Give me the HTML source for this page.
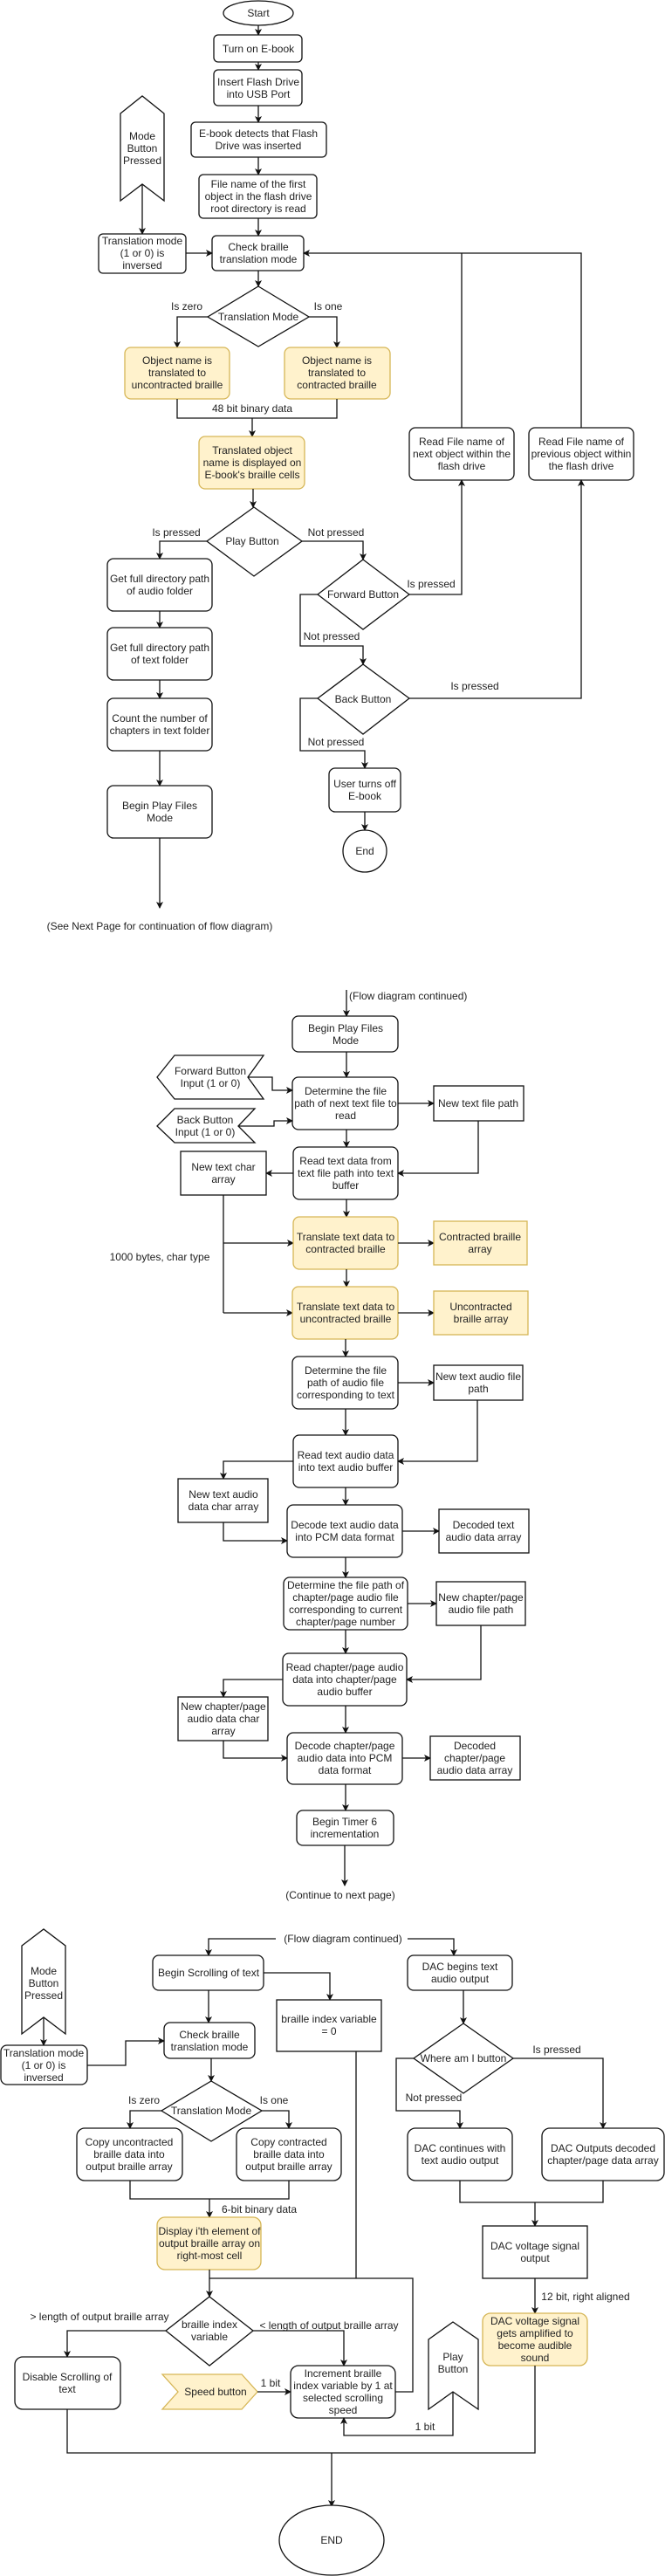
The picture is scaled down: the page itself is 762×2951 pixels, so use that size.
<!DOCTYPE html>
<html><head><meta charset="utf-8">
<style>
html,body{margin:0;padding:0;background:#fff;}
svg{display:block;}
text{font-family:"Liberation Sans",Arial,sans-serif;font-size:12px;fill:#222;}
.b{fill:#fff;stroke:#111;stroke-width:1.3;}
.y{fill:#fff2cc;stroke:#d6b656;stroke-width:1.3;}
.l{fill:none;stroke:#111;stroke-width:1.3;}
</style></head><body>
<svg width="762" height="2951" viewBox="0 0 762 2951" xmlns="http://www.w3.org/2000/svg">
<defs><marker id="a" markerWidth="8" markerHeight="8" refX="7" refY="4" orient="auto" markerUnits="userSpaceOnUse"><path d="M0,0 L8,4 L0,8 L2,4 z" fill="#111"/></marker></defs>
<g text-anchor="middle">

<!-- PART 1 -->
<ellipse class="b" cx="296" cy="15" rx="40" ry="14"/><text x="296" y="19">Start</text>
<path class="l" d="M296,29V40" marker-end="url(#a)"/>
<rect class="b" x="245" y="40" width="101" height="31" rx="5"/><text x="296" y="60">Turn on E-book</text>
<path class="l" d="M296,71V80" marker-end="url(#a)"/>
<rect class="b" x="245" y="80" width="101" height="41" rx="5"/><text x="296" y="98">Insert Flash Drive</text><text x="296" y="112">into USB Port</text>
<path class="l" d="M296,121V140" marker-end="url(#a)"/>
<rect class="b" x="219" y="140" width="155" height="40" rx="5"/><text x="296" y="157">E-book detects that Flash</text><text x="296" y="171">Drive was inserted</text>
<path class="l" d="M296,180V200" marker-end="url(#a)"/>
<rect class="b" x="228" y="200" width="135" height="50" rx="5"/><text x="296" y="215">File name of the first</text><text x="296" y="229">object in the flash drive</text><text x="296" y="243">root directory is read</text>
<path class="l" d="M296,250V270" marker-end="url(#a)"/>
<rect class="b" x="243" y="270" width="105" height="40" rx="5"/><text x="296" y="287">Check braille</text><text x="296" y="301">translation mode</text>
<polygon class="b" points="138,130 163,110 188,130 188,230 163,211 138,230"/>
<text x="163" y="160">Mode</text><text x="163" y="174">Button</text><text x="163" y="188">Pressed</text>
<path class="l" d="M163,211V268" marker-end="url(#a)"/>
<rect class="b" x="113" y="268" width="100" height="45" rx="5"/><text x="163" y="280">Translation mode</text><text x="163" y="294">(1 or 0) is</text><text x="163" y="308">inversed</text>
<path class="l" d="M213,290H243" marker-end="url(#a)"/>
<path class="l" d="M296,310V328" marker-end="url(#a)"/>
<polygon class="b" points="296,328 354,363 296,397 238,363"/><text x="296" y="367">Translation Mode</text>
<path class="l" d="M238,363H203V398" marker-end="url(#a)"/>
<path class="l" d="M354,363H386V398" marker-end="url(#a)"/>
<text x="214" y="355">Is zero</text><text x="376" y="355">Is one</text>
<rect class="y" x="143" y="398" width="120" height="59" rx="7"/><text x="203" y="417">Object name is</text><text x="203" y="431">translated to</text><text x="203" y="445">uncontracted braille</text>
<rect class="y" x="326" y="398" width="121" height="59" rx="7"/><text x="386" y="417">Object name is</text><text x="386" y="431">translated to</text><text x="386" y="445">contracted braille</text>
<path class="l" d="M203,457V479H386V457"/>
<text x="289" y="472">48 bit binary data</text>
<path class="l" d="M289,479V500" marker-end="url(#a)"/>
<rect class="y" x="228" y="500" width="121" height="60" rx="7"/><text x="289" y="520">Translated object</text><text x="289" y="534">name is displayed on</text><text x="289" y="548">E-book's braille cells</text>
<path class="l" d="M290,560V581" marker-end="url(#a)"/>
<polygon class="b" points="291,581 346,620 291,660 237,620"/><text x="289" y="624">Play Button</text>
<text x="202" y="614">Is pressed</text><text x="385" y="614">Not pressed</text>
<path class="l" d="M237,620H183V640" marker-end="url(#a)"/>
<path class="l" d="M346,620H416V641" marker-end="url(#a)"/>
<rect class="b" x="123" y="640" width="120" height="60" rx="7"/><text x="183" y="667">Get full directory path</text><text x="183" y="681">of audio folder</text>
<path class="l" d="M183,700V719" marker-end="url(#a)"/>
<rect class="b" x="123" y="719" width="120" height="60" rx="7"/><text x="183" y="746">Get full directory path</text><text x="183" y="760">of text folder</text>
<path class="l" d="M183,779V800" marker-end="url(#a)"/>
<rect class="b" x="123" y="800" width="120" height="60" rx="7"/><text x="183" y="827">Count the number of</text><text x="183" y="841">chapters in text folder</text>
<path class="l" d="M183,860V900" marker-end="url(#a)"/>
<rect class="b" x="123" y="900" width="120" height="60" rx="7"/><text x="183" y="927">Begin Play Files</text><text x="183" y="941">Mode</text>
<path class="l" d="M183,960V1040" marker-end="url(#a)"/>
<text x="183" y="1065">(See Next Page for continuation of flow diagram)</text>
<polygon class="b" points="416,641 469,681 416,721 364,681"/><text x="416" y="685">Forward Button</text>
<text x="494" y="673">Is pressed</text>
<path class="l" d="M469,681H529V550" marker-end="url(#a)"/>
<rect class="b" x="469" y="490" width="120" height="60" rx="7"/><text x="529" y="510">Read File name of</text><text x="529" y="524">next object within the</text><text x="529" y="538">flash drive</text>
<rect class="b" x="606" y="490" width="120" height="60" rx="7"/><text x="666" y="510">Read File name of</text><text x="666" y="524">previous object within</text><text x="666" y="538">the flash drive</text>
<path class="l" d="M529,490V290"/>
<path class="l" d="M666,490V290H348" marker-end="url(#a)"/>
<path class="l" d="M364,681H344V740H416V761" marker-end="url(#a)"/>
<text x="380" y="733">Not pressed</text>
<polygon class="b" points="416,761 469,800 416,841 364,800"/><text x="416" y="805">Back Button</text>
<text x="544" y="790">Is pressed</text>
<path class="l" d="M469,800H666V550" marker-end="url(#a)"/>
<path class="l" d="M364,800H344V860H418V880" marker-end="url(#a)"/>
<text x="385" y="854">Not pressed</text>
<rect class="b" x="377" y="880" width="82" height="50" rx="7"/><text x="418" y="902">User turns off</text><text x="418" y="916">E-book</text>
<path class="l" d="M418,930V951" marker-end="url(#a)"/>
<ellipse class="b" cx="418" cy="975" rx="25" ry="24"/><text x="418" y="979">End</text>

<!-- PART 2 -->
<path class="l" d="M397,1134V1164" marker-end="url(#a)"/>
<text x="400" y="1145" text-anchor="start">(Flow diagram continued)</text>
<rect class="b" x="335" y="1164" width="121" height="41" rx="7"/><text x="396" y="1182">Begin Play Files</text><text x="396" y="1196">Mode</text>
<path class="l" d="M397,1205V1234" marker-end="url(#a)"/>
<rect class="b" x="335" y="1234" width="121" height="60" rx="7"/><text x="396" y="1254">Determine the file</text><text x="396" y="1268">path of next text file to</text><text x="396" y="1282">read</text>
<polygon class="b" points="180,1234 200,1209 302,1209 284,1234 302,1259 200,1259"/><text x="241" y="1231">Forward Button</text><text x="241" y="1245">Input (1 or 0)</text>
<path class="l" d="M284,1234H312V1249H335" marker-end="url(#a)"/>
<polygon class="b" points="180,1290 200,1270 292,1270 273,1290 292,1309 200,1309"/><text x="235" y="1287">Back Button</text><text x="235" y="1301">Input (1 or 0)</text>
<path class="l" d="M273,1290H314V1284H335" marker-end="url(#a)"/>
<path class="l" d="M456,1264H497" marker-end="url(#a)"/>
<rect class="b" x="497" y="1244" width="103" height="40"/><text x="548" y="1268">New text file path</text>
<path class="l" d="M548,1284V1344H456" marker-end="url(#a)"/>
<path class="l" d="M397,1294V1314" marker-end="url(#a)"/>
<rect class="b" x="336" y="1314" width="120" height="60" rx="7"/><text x="396" y="1334">Read text data from</text><text x="396" y="1348">text file path into text</text><text x="396" y="1362">buffer</text>
<path class="l" d="M336,1344H305" marker-end="url(#a)"/>
<rect class="b" x="207" y="1319" width="98" height="50"/><text x="256" y="1341">New text char</text><text x="256" y="1355">array</text>
<path class="l" d="M256,1369V1504"/>
<path class="l" d="M256,1424H336" marker-end="url(#a)"/>
<path class="l" d="M256,1504H335" marker-end="url(#a)"/>
<text x="183" y="1444">1000 bytes, char type</text>
<path class="l" d="M397,1374V1394" marker-end="url(#a)"/>
<rect class="y" x="336" y="1394" width="120" height="60" rx="7"/><text x="396" y="1421">Translate text data to</text><text x="396" y="1435">contracted braille</text>
<path class="l" d="M456,1424H497" marker-end="url(#a)"/>
<rect class="y" x="497" y="1399" width="107" height="50"/><text x="550" y="1421">Contracted braille</text><text x="550" y="1435">array</text>
<path class="l" d="M397,1454V1474" marker-end="url(#a)"/>
<rect class="y" x="335" y="1474" width="121" height="60" rx="7"/><text x="396" y="1501">Translate text data to</text><text x="396" y="1515">uncontracted braille</text>
<path class="l" d="M456,1504H497" marker-end="url(#a)"/>
<rect class="y" x="497" y="1479" width="108" height="50"/><text x="551" y="1501">Uncontracted</text><text x="551" y="1515">braille array</text>
<path class="l" d="M396,1534V1554" marker-end="url(#a)"/>
<rect class="b" x="335" y="1554" width="121" height="60" rx="7"/><text x="396" y="1574">Determine the file</text><text x="396" y="1588">path of audio file</text><text x="396" y="1602">corresponding to text</text>
<path class="l" d="M456,1584H497" marker-end="url(#a)"/>
<rect class="b" x="497" y="1564" width="102" height="40"/><text x="548" y="1581">New text audio file</text><text x="548" y="1595">path</text>
<path class="l" d="M547,1604V1674H456" marker-end="url(#a)"/>
<path class="l" d="M396,1614V1644" marker-end="url(#a)"/>
<rect class="b" x="336" y="1644" width="120" height="60" rx="7"/><text x="396" y="1671">Read text audio data</text><text x="396" y="1685">into text audio buffer</text>
<path class="l" d="M336,1674H256V1694" marker-end="url(#a)"/>
<rect class="b" x="204" y="1694" width="103" height="50"/><text x="256" y="1716">New text audio</text><text x="256" y="1730">data char array</text>
<path class="l" d="M256,1744V1765H329" marker-end="url(#a)"/>
<path class="l" d="M396,1704V1724" marker-end="url(#a)"/>
<rect class="b" x="329" y="1724" width="132" height="60" rx="7"/><text x="395" y="1751">Decode text audio data</text><text x="395" y="1765">into PCM data format</text>
<path class="l" d="M461,1754H503" marker-end="url(#a)"/>
<rect class="b" x="503" y="1729" width="103" height="50"/><text x="554" y="1751">Decoded text</text><text x="554" y="1765">audio data array</text>
<path class="l" d="M396,1784V1807" marker-end="url(#a)"/>
<rect class="b" x="325" y="1807" width="142" height="60" rx="7"/><text x="396" y="1820">Determine the file path of</text><text x="396" y="1834">chapter/page audio file</text><text x="396" y="1848">corresponding to current</text><text x="396" y="1862">chapter/page number</text>
<path class="l" d="M467,1837H500" marker-end="url(#a)"/>
<rect class="b" x="500" y="1812" width="102" height="50"/><text x="551" y="1834">New chapter/page</text><text x="551" y="1848">audio file path</text>
<path class="l" d="M551,1862V1924H466" marker-end="url(#a)"/>
<path class="l" d="M396,1867V1894" marker-end="url(#a)"/>
<rect class="b" x="324" y="1894" width="142" height="60" rx="7"/><text x="395" y="1914">Read chapter/page audio</text><text x="395" y="1928">data into chapter/page</text><text x="395" y="1942">audio buffer</text>
<path class="l" d="M324,1924H256V1944" marker-end="url(#a)"/>
<rect class="b" x="204" y="1944" width="103" height="50"/><text x="256" y="1959">New chapter/page</text><text x="256" y="1973">audio data char</text><text x="256" y="1987">array</text>
<path class="l" d="M256,1994V2014H329" marker-end="url(#a)"/>
<path class="l" d="M396,1954V1985" marker-end="url(#a)"/>
<rect class="b" x="329" y="1985" width="132" height="59" rx="7"/><text x="395" y="2004">Decode chapter/page</text><text x="395" y="2018">audio data into PCM</text><text x="395" y="2032">data format</text>
<path class="l" d="M461,2014H493" marker-end="url(#a)"/>
<rect class="b" x="493" y="1989" width="103" height="50"/><text x="544" y="2004">Decoded</text><text x="544" y="2018">chapter/page</text><text x="544" y="2032">audio data array</text>
<path class="l" d="M396,2044V2074" marker-end="url(#a)"/>
<rect class="b" x="340" y="2074" width="111" height="40" rx="7"/><text x="395" y="2091">Begin Timer 6</text><text x="395" y="2105">incrementation</text>
<path class="l" d="M395,2114V2160" marker-end="url(#a)"/>
<text x="390" y="2175">(Continue to next page)</text>

<!-- PART 3 -->
<text x="393" y="2225">(Flow diagram continued)</text>
<path class="l" d="M316,2221H239V2240" marker-end="url(#a)"/>
<path class="l" d="M467,2221H520V2240" marker-end="url(#a)"/>
<rect class="b" x="175" y="2240" width="127" height="40" rx="7"/><text x="239" y="2264">Begin Scrolling of text</text>
<path class="l" d="M302,2260H378V2291" marker-end="url(#a)"/>
<rect class="b" x="317" y="2291" width="120" height="59"/><text x="377" y="2317">braille index variable</text><text x="377" y="2331">= 0</text>
<path class="l" d="M408,2350V2610"/>
<path class="l" d="M239,2280V2317" marker-end="url(#a)"/>
<rect class="b" x="188" y="2317" width="104" height="41" rx="7"/><text x="240" y="2335">Check braille</text><text x="240" y="2349">translation mode</text>
<polygon class="b" points="25,2229 50,2210 75,2229 75,2330 50,2311 25,2330"/>
<text x="50" y="2262">Mode</text><text x="50" y="2276">Button</text><text x="50" y="2290">Pressed</text>
<path class="l" d="M50,2311V2343" marker-end="url(#a)"/>
<rect class="b" x="1" y="2343" width="99" height="45" rx="7"/><text x="50" y="2356">Translation mode</text><text x="50" y="2370">(1 or 0) is</text><text x="50" y="2384">inversed</text>
<path class="l" d="M100,2366H144V2338H188" marker-end="url(#a)"/>
<path class="l" d="M242,2358V2384" marker-end="url(#a)"/>
<polygon class="b" points="242,2384 300,2418 242,2453 185,2418"/><text x="242" y="2422">Translation Mode</text>
<text x="165" y="2410">Is zero</text><text x="314" y="2410">Is one</text>
<path class="l" d="M185,2418H149V2438" marker-end="url(#a)"/>
<path class="l" d="M300,2418H331V2438" marker-end="url(#a)"/>
<rect class="b" x="88" y="2438" width="121" height="60" rx="9"/><text x="148" y="2458">Copy uncontracted</text><text x="148" y="2472">braille data into</text><text x="148" y="2486">output braille array</text>
<rect class="b" x="271" y="2438" width="120" height="60" rx="9"/><text x="331" y="2458">Copy contracted</text><text x="331" y="2472">braille data into</text><text x="331" y="2486">output braille array</text>
<path class="l" d="M149,2498V2519H331V2498"/>
<path class="l" d="M240,2519V2540" marker-end="url(#a)"/>
<text x="297" y="2535">6-bit binary data</text>
<rect class="y" x="180" y="2540" width="119" height="60" rx="9"/><text x="240" y="2560">Display i'th element of</text><text x="240" y="2574">output braille array on</text><text x="240" y="2588">right-most cell</text>
<path class="l" d="M240,2600V2631" marker-end="url(#a)"/>
<path class="l" d="M240,2610H473V2740H453"/>
<polygon class="b" points="240,2631 290,2670 240,2710 190,2670"/><text x="240" y="2667">braille index</text><text x="240" y="2681">variable</text>
<text x="114" y="2658">&gt; length of output braille array</text>
<path class="l" d="M190,2670H77V2700" marker-end="url(#a)"/>
<rect class="b" x="17" y="2700" width="121" height="60" rx="9"/><text x="77" y="2727">Disable Scrolling of</text><text x="77" y="2741">text</text>
<text x="377" y="2668">&lt; length of output braille array</text>
<path class="l" d="M290,2670H394V2710" marker-end="url(#a)"/>
<rect class="b" x="333" y="2710" width="120" height="60" rx="9"/><text x="393" y="2723">Increment braille</text><text x="393" y="2737">index variable by 1 at</text><text x="393" y="2751">selected scrolling</text><text x="393" y="2765">speed</text>
<polygon class="y" points="186,2720 277,2720 295,2740 277,2760 186,2760 204,2740"/><text x="247" y="2744">Speed button</text>
<path class="l" d="M295,2740H333" marker-end="url(#a)"/>
<text x="310" y="2734">1 bit</text>
<polygon class="b" points="491,2680 519,2660 548,2680 548,2760 519,2740 491,2760"/><text x="519" y="2704">Play</text><text x="519" y="2718">Button</text>
<path class="l" d="M519,2740V2790H394V2770" marker-end="url(#a)"/>
<text x="487" y="2784">1 bit</text>
<rect class="b" x="467" y="2240" width="120" height="40" rx="7"/><text x="527" y="2257">DAC begins text</text><text x="527" y="2271">audio output</text>
<path class="l" d="M531,2280V2318" marker-end="url(#a)"/>
<polygon class="b" points="531,2318 588,2358 531,2398 474,2358"/><text x="531" y="2362">Where am I button</text>
<text x="638" y="2352">Is pressed</text>
<path class="l" d="M588,2358H691V2438" marker-end="url(#a)"/>
<path class="l" d="M474,2358H454V2418H527V2438" marker-end="url(#a)"/>
<text x="497" y="2407">Not pressed</text>
<rect class="b" x="467" y="2438" width="120" height="60" rx="9"/><text x="527" y="2465">DAC continues with</text><text x="527" y="2479">text audio output</text>
<rect class="b" x="621" y="2438" width="140" height="60" rx="9"/><text x="691" y="2465">DAC Outputs decoded</text><text x="691" y="2479">chapter/page data array</text>
<path class="l" d="M527,2498V2523H691V2498"/>
<path class="l" d="M613,2523V2550" marker-end="url(#a)"/>
<rect class="b" x="553" y="2550" width="120" height="60"/><text x="613" y="2577">DAC voltage signal</text><text x="613" y="2591">output</text>
<path class="l" d="M613,2610V2650" marker-end="url(#a)"/>
<text x="671" y="2635">12 bit, right aligned</text>
<rect class="y" x="553" y="2650" width="120" height="60" rx="9"/><text x="613" y="2663">DAC voltage signal</text><text x="613" y="2677">gets amplified to</text><text x="613" y="2691">become audible</text><text x="613" y="2705">sound</text>
<path class="l" d="M613,2710V2810H77V2760"/>
<path class="l" d="M380,2810V2871" marker-end="url(#a)"/>
<ellipse class="b" cx="380" cy="2910" rx="60" ry="40"/><text x="380" y="2914">END</text>
</g>
</svg>
</body></html>
